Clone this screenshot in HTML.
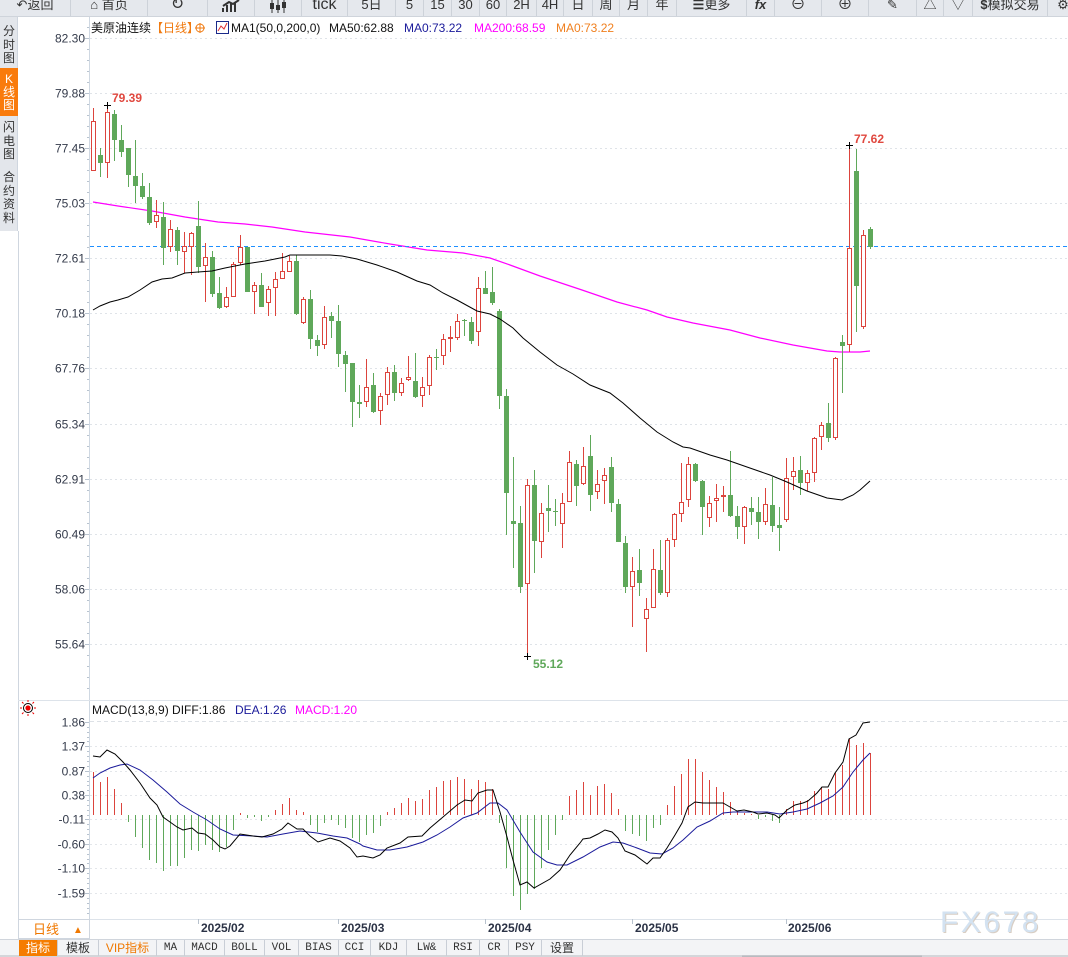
<!DOCTYPE html>
<html><head><meta charset="utf-8"><style>
*{margin:0;padding:0;box-sizing:border-box}
html,body{width:1068px;height:957px;overflow:hidden;background:#fff}
#root{position:relative;width:1068px;height:957px;overflow:hidden;background:#fff;font-family:"Liberation Sans","Noto Sans CJK SC",sans-serif}
svg{position:absolute;left:0;top:0}
.tb{position:absolute;left:0;top:0;width:1068px;height:17px;background:#e5e8ed;border-bottom:1px solid #cfd4db;overflow:hidden}
.tb span{position:absolute;top:-6px;height:23px;line-height:22px;text-align:center;font-size:13px;color:#333;border-right:1px solid #cdd2d9;white-space:nowrap}
.sb{position:absolute;left:0;top:17px;width:18px;height:214px;background:#e3e6eb;border-right:1px solid #cfd6df}
.sb div{position:absolute;left:0;width:18px;text-align:center;font-size:12px;color:#333;line-height:13.5px}
.tabs{position:absolute;left:0;top:939px;width:1068px;height:16px;background:#f3f4f6;border-top:1px solid #d0d5dc}
.tabs span{position:absolute;top:0;height:16px;line-height:16px;text-align:center;font-size:12px;color:#333;border-right:1px solid #c9ced6;white-space:nowrap}
.tabs .m{font-family:"Liberation Mono",monospace;font-size:11px}
</style></head><body><div id="root">
<svg width="1068" height="957" viewBox="0 0 1068 957" xmlns="http://www.w3.org/2000/svg" font-family="Liberation Sans, Noto Sans CJK SC, sans-serif">
<path d="M18.5 231V957" stroke="#cfd6df"/>
<path d="M89.5 17V919" stroke="#cfd8e2"/>
<g stroke="#dfe3e8" stroke-dasharray="2,3">
<path d="M90 38.5H1068M90 93.5H1068M90 148.5H1068M90 203.5H1068M90 258.5H1068M90 313.5H1068M90 368.5H1068M90 424.5H1068M90 479.5H1068M90 534.5H1068M90 589.5H1068M90 644.5H1068"/>
</g>
<g stroke="#b8c3cf">
<path d="M85 38.5H89M85 93.5H89M85 148.5H89M85 203.5H89M85 258.5H89M85 313.5H89M85 368.5H89M85 424.5H89M85 479.5H89M85 534.5H89M85 589.5H89M85 644.5H89"/>
<path d="M87 27.5h2M87 49.5h2M87 60.5h2M87 71.5h2M87 82.5h2M87 104.5h2M87 115.5h2M87 126.5h2M87 137.5h2M87 159.5h2M87 170.5h2M87 181.5h2M87 192.5h2M87 214.5h2M87 225.5h2M87 236.5h2M87 247.5h2M87 269.5h2M87 280.5h2M87 291.5h2M87 302.5h2M87 324.5h2M87 335.5h2M87 346.5h2M87 357.5h2M87 379.5h2M87 390.5h2M87 402.5h2M87 413.5h2M87 435.5h2M87 446.5h2M87 457.5h2M87 468.5h2M87 490.5h2M87 501.5h2M87 512.5h2M87 523.5h2M87 545.5h2M87 556.5h2M87 567.5h2M87 578.5h2M87 600.5h2M87 611.5h2M87 622.5h2M87 633.5h2M87 655.5h2M87 666.5h2M87 677.5h2M87 688.5h2"/>
</g>
<g font-size="12" fill="#333a4a" text-anchor="end">
<text x="85" y="42.5">82.30</text><text x="85" y="97.5">79.88</text><text x="85" y="152.5">77.45</text><text x="85" y="207.5">75.03</text><text x="85" y="262.5">72.61</text><text x="85" y="317.5">70.18</text><text x="85" y="372.5">67.76</text><text x="85" y="428.5">65.34</text><text x="85" y="483.5">62.91</text><text x="85" y="538.5">60.49</text><text x="85" y="593.5">58.06</text><text x="85" y="648.5">55.64</text>
</g>
<g font-size="12">
<text x="91" y="32" fill="#111">美原油连续</text>
<text x="151" y="32" fill="#f07a10">【日线】</text>
<g stroke="#f07a10" fill="none"><circle cx="200" cy="28" r="4"/><path d="M195 28h10M200 23v10"/></g>
<rect x="216.5" y="21.5" width="12" height="12" fill="#fff" stroke="#1a2a8a"/>
<path d="M218 31l3-5 3 3 3-6" stroke="#e03030" fill="none"/>
<text x="231" y="32" fill="#111">MA1(50,0,200,0)</text>
<text x="329" y="32" fill="#111">MA50:62.88</text>
<text x="404" y="32" fill="#1a1a9a">MA0:73.22</text>
<text x="474" y="32" fill="#ff00ff">MA200:68.59</text>
<text x="556" y="32" fill="#f08020">MA0:73.22</text>
</g>
<polyline fill="none" stroke="#ff00ff" stroke-width="1.2" points="93,202 118,206 152,211 185,217 218,222 245,224 272,227 305,232 350,237 390,244 427,250 463,253 490,258 510,265 540,276 582,290 617,302 647,310 667,317 693,323 730,330 760,338 793,345 827,351 840,352 860,352 870,351"/>
<path d="M90 246.5H1068" stroke="#1e8fff" stroke-dasharray="4,3"/>
<path fill="none" stroke="#5fa85a" d="M100.5 148V177M114.5 110V161M121.5 125V157M128.5 148V187M135.5 140V203M142.5 173V199M149.5 183V225M163.5 202V265M177.5 227V265M198.5 201V273M212.5 251V297M219.5 277V309M247.5 247V292M261.5 273V307M296.5 255V315M310.5 290V349M317.5 335V356M331.5 312V338M338.5 305V367M345.5 351V392M352.5 363V427M359.5 385V418M373.5 373V413M394.5 365V401M415.5 353V398M436.5 349V370M464.5 319V336M471.5 317V344M485.5 271V294M492.5 267V305M499.5 309V409M506.5 389V535M513.5 457V568M520.5 506V593M534.5 470V573M548.5 485V532M555.5 499V526M576.5 460V506M590.5 435V511M611.5 457V512M618.5 499V542M625.5 536V593M639.5 549V596M660.5 540V595M695.5 463V482M702.5 480V535M730.5 451V517M737.5 506V539M751.5 497V525M758.5 497V539M772.5 477V532M779.5 507V551M800.5 456V495M828.5 403V442M842.5 335V393M856.5 149V332M870.5 227V249"/>
<g fill="#5fa85a">
<rect x="98" y="155" width="5" height="8"/><rect x="112" y="114" width="5" height="26"/><rect x="119" y="140" width="5" height="12"/><rect x="126" y="148" width="5" height="27"/><rect x="133" y="176" width="5" height="10"/><rect x="140" y="186" width="5" height="11"/><rect x="147" y="197" width="5" height="26"/><rect x="161" y="217" width="5" height="31"/><rect x="175" y="230" width="5" height="21"/><rect x="196" y="226" width="5" height="41"/><rect x="210" y="257" width="5" height="37"/><rect x="217" y="293" width="5" height="15"/><rect x="245" y="247" width="5" height="45"/><rect x="259" y="285" width="5" height="22"/><rect x="294" y="261" width="5" height="53"/><rect x="308" y="299" width="5" height="40"/><rect x="315" y="340" width="5" height="6"/><rect x="329" y="316" width="5" height="5"/><rect x="336" y="321" width="5" height="33"/><rect x="343" y="355" width="5" height="9"/><rect x="350" y="363" width="5" height="39"/><rect x="357" y="402" width="5" height="2"/><rect x="371" y="385" width="5" height="27"/><rect x="392" y="372" width="5" height="21"/><rect x="413" y="381" width="5" height="16"/><rect x="434" y="357" width="5" height="1"/><rect x="462" y="320" width="5" height="1"/><rect x="469" y="322" width="5" height="19"/><rect x="483" y="288" width="5" height="6"/><rect x="490" y="292" width="5" height="11"/><rect x="497" y="311" width="5" height="85"/><rect x="504" y="396" width="5" height="97"/><rect x="511" y="521" width="5" height="3"/><rect x="518" y="523" width="5" height="64"/><rect x="532" y="485" width="5" height="56"/><rect x="546" y="508" width="5" height="3"/><rect x="553" y="511" width="5" height="1"/><rect x="574" y="464" width="5" height="22"/><rect x="588" y="456" width="5" height="39"/><rect x="609" y="467" width="5" height="36"/><rect x="616" y="504" width="5" height="38"/><rect x="623" y="543" width="5" height="44"/><rect x="637" y="570" width="5" height="13"/><rect x="658" y="570" width="5" height="23"/><rect x="693" y="464" width="5" height="17"/><rect x="700" y="481" width="5" height="26"/><rect x="728" y="495" width="5" height="21"/><rect x="735" y="516" width="5" height="11"/><rect x="749" y="508" width="5" height="4"/><rect x="756" y="512" width="5" height="10"/><rect x="770" y="505" width="5" height="21"/><rect x="777" y="525" width="5" height="3"/><rect x="798" y="470" width="5" height="13"/><rect x="826" y="423" width="5" height="15"/><rect x="840" y="342" width="5" height="4"/><rect x="854" y="171" width="5" height="115"/><rect x="868" y="229" width="5" height="18"/>
</g>
<path fill="none" stroke="#dc443d" d="M93.5 108V171M107.5 105V178M156.5 200V228M170.5 220V252M184.5 232V273M191.5 232V275M205.5 243V302M226.5 287V308M233.5 262V297M240.5 235V265M254.5 282V314M268.5 286V316M275.5 272V316M282.5 253V279M289.5 256V272M303.5 297V324M324.5 306V349M366.5 359V407M380.5 393V425M387.5 367V405M401.5 378V396M408.5 356V381M422.5 377V407M429.5 355V395M443.5 334V365M450.5 326V352M457.5 314V340M478.5 277V346M527.5 479V657M541.5 503V558M562.5 493V548M569.5 451V502M583.5 447V485M597.5 470V499M604.5 468V504M632.5 557V627M646.5 598V652M653.5 549V608M667.5 538V597M674.5 513V547M681.5 463V522M688.5 457V507M709.5 496V527M716.5 484V522M723.5 486V512M744.5 506V544M765.5 488V525M786.5 458V522M793.5 457V490M807.5 470V491M814.5 437V482M821.5 422V450M835.5 357V440M849.5 145V352M863.5 230V329"/>
<g fill="#fff" stroke="#dc443d">
<rect x="91.5" y="121.5" width="4" height="49"/><rect x="105.5" y="112.5" width="4" height="50"/><rect x="154.5" y="215.5" width="4" height="6"/><rect x="168.5" y="229.5" width="4" height="17"/><rect x="182.5" y="246.5" width="4" height="5"/><rect x="189.5" y="233.5" width="4" height="13"/><rect x="203.5" y="257.5" width="4" height="8"/><rect x="224.5" y="297.5" width="4" height="9"/><rect x="231.5" y="264.5" width="4" height="32"/><rect x="238.5" y="247.5" width="4" height="15"/><rect x="252.5" y="285.5" width="4" height="6"/><rect x="266.5" y="289.5" width="4" height="13"/><rect x="273.5" y="279.5" width="4" height="8"/><rect x="280.5" y="271.5" width="4" height="7"/><rect x="287.5" y="261.5" width="4" height="10"/><rect x="301.5" y="299.5" width="4" height="23"/><rect x="322.5" y="317.5" width="4" height="27"/><rect x="364.5" y="387.5" width="4" height="14"/><rect x="378.5" y="396.5" width="4" height="14"/><rect x="385.5" y="372.5" width="4" height="22"/><rect x="399.5" y="383.5" width="4" height="9"/><rect x="406.5" y="377.5" width="4" height="2"/><rect x="420.5" y="387.5" width="4" height="8"/><rect x="427.5" y="357.5" width="4" height="28"/><rect x="441.5" y="339.5" width="4" height="16"/><rect x="448.5" y="337.5" width="4" height="1"/><rect x="455.5" y="321.5" width="4" height="16"/><rect x="476.5" y="288.5" width="4" height="43"/><rect x="525.5" y="485.5" width="4" height="98"/><rect x="539.5" y="513.5" width="4" height="28"/><rect x="560.5" y="503.5" width="4" height="20"/><rect x="567.5" y="462.5" width="4" height="39"/><rect x="581.5" y="466.5" width="4" height="17"/><rect x="595.5" y="484.5" width="4" height="7"/><rect x="602.5" y="475.5" width="4" height="5"/><rect x="630.5" y="571.5" width="4" height="15"/><rect x="644.5" y="609.5" width="4" height="9"/><rect x="651.5" y="569.5" width="4" height="38"/><rect x="665.5" y="540.5" width="4" height="52"/><rect x="672.5" y="514.5" width="4" height="25"/><rect x="679.5" y="502.5" width="4" height="11"/><rect x="686.5" y="464.5" width="4" height="35"/><rect x="707.5" y="503.5" width="4" height="14"/><rect x="714.5" y="498.5" width="4" height="2"/><rect x="721.5" y="495.5" width="4" height="1"/><rect x="742.5" y="507.5" width="4" height="19"/><rect x="763.5" y="504.5" width="4" height="17"/><rect x="784.5" y="478.5" width="4" height="41"/><rect x="791.5" y="471.5" width="4" height="5"/><rect x="805.5" y="473.5" width="4" height="9"/><rect x="812.5" y="438.5" width="4" height="34"/><rect x="819.5" y="425.5" width="4" height="11"/><rect x="833.5" y="358.5" width="4" height="79"/><rect x="847.5" y="248.5" width="4" height="96"/><rect x="861.5" y="235.5" width="4" height="91"/>
</g>
<polyline fill="none" stroke="#000" stroke-width="1" points="93,310 100,306 110,302 118,300 128,297 140,290 152,282 162,279 172,278 185,273 198,272 212,271 225,268 245,264 265,261 285,257 290,255 313,255 330,255 342,256 357,259 377,265 397,272 417,281 430,285 443,293 457,300 477,311 490,314 500,319 513,328 523,338 540,352 557,365 573,374 590,385 610,393 623,403 640,418 657,432 673,442 683,447 690,448 710,455 727,460 747,467 770,475 787,482 807,491 827,498 842,500 853,495 860,490 870,481"/>
<path d="M104 105.5h7M107.5 102v7M846 145.5h7M849.5 142v7M524 656.5h7M527.5 653v7" stroke="#000"/>
<text x="112" y="102" font-size="12" font-weight="bold" fill="#e0483f">79.39</text>
<text x="854" y="143" font-size="12" font-weight="bold" fill="#e0483f">77.62</text>
<text x="533" y="668" font-size="12" font-weight="bold" fill="#5fa85a">55.12</text>
<path d="M18 700.5H1068" stroke="#dde3ea"/>
<g transform="translate(28,708)">
<circle r="4.5" fill="none" stroke="#000"/><circle r="2.6" fill="#e00"/>
<path d="M0-8v2M0 6v2M-8 0h2M6 0h2M-6-6l1.5 1.5M4.5 4.5L6 6M6-6L4.5-4.5M-4.5 4.5L-6 6" stroke="#e00"/>
</g>
<g font-size="12">
<text x="92" y="714" fill="#111">MACD(13,8,9) DIFF:1.86</text>
<text x="235" y="714" fill="#1a1a9a">DEA:1.26</text>
<text x="295" y="714" fill="#ff00ff">MACD:1.20</text>
</g>
<path d="M90 721.5H1068" stroke="#dde1e6" stroke-dasharray="4,3"/>
<g stroke="#e3e6ea" stroke-dasharray="2,3">
<path d="M90 746.5H1068M90 771.5H1068M90 795.5H1068M90 819.5H1068M90 844.5H1068M90 868.5H1068M90 893.5H1068"/>
</g>
<g stroke="#b8c3cf">
<path d="M85 722.5H89M85 746.5H89M85 771.5H89M85 795.5H89M85 819.5H89M85 844.5H89M85 868.5H89M85 893.5H89"/>
<path d="M87 727.5h2M87 732.5h2M87 737.5h2M87 741.5h2M87 751.5h2M87 756.5h2M87 761.5h2M87 766.5h2M87 776.5h2M87 781.5h2M87 785.5h2M87 790.5h2M87 800.5h2M87 805.5h2M87 810.5h2M87 815.5h2M87 824.5h2M87 829.5h2M87 834.5h2M87 839.5h2M87 849.5h2M87 854.5h2M87 859.5h2M87 863.5h2M87 873.5h2M87 878.5h2M87 883.5h2M87 888.5h2M87 898.5h2M87 903.5h2M87 908.5h2M87 913.5h2"/>
</g>
<g font-size="12" fill="#333a4a" text-anchor="end">
<text x="85" y="726.5">1.86</text><text x="85" y="750.5">1.37</text><text x="85" y="775.5">0.87</text><text x="85" y="799.5">0.38</text><text x="85" y="823.5">-0.11</text><text x="85" y="848.5">-0.60</text><text x="85" y="872.5">-1.10</text><text x="85" y="897.5">-1.59</text>
</g>
<path stroke="#dc443d" d="M93.5 815V772M100.5 815V782M107.5 815V777M114.5 815V789M121.5 815V803M240.5 815V813M275.5 815V810M282.5 815V804M289.5 815V798M296.5 815V810M303.5 815V812M387.5 815V812M394.5 815V808M401.5 815V803M408.5 815V798M415.5 815V801M422.5 815V799M429.5 815V790M436.5 815V787M443.5 815V781M450.5 815V780M457.5 815V777M464.5 815V779M471.5 815V789M478.5 815V780M485.5 815V782M492.5 815V789M569.5 815V796M576.5 815V790M583.5 815V782M590.5 815V795M597.5 815V786M604.5 815V784M611.5 815V793M618.5 815V809M667.5 815V805M674.5 815V786M681.5 815V774M688.5 815V759M695.5 815V759M702.5 815V772M709.5 815V780M716.5 815V787M723.5 815V792M730.5 815V802M737.5 815V811M744.5 815V813M751.5 815V814M786.5 815V809M793.5 815V801M800.5 815V801M807.5 815V800M814.5 815V791M821.5 815V787M828.5 815V789M835.5 815V773M842.5 815V765M849.5 815V739M856.5 815V745M863.5 815V743M870.5 815V753"/>
<path stroke="#5fa85a" d="M128.5 815V822M135.5 815V837M142.5 815V848M149.5 815V860M156.5 815V863M163.5 815V871M170.5 815V866M177.5 815V866M184.5 815V858M191.5 815V850M198.5 815V851M205.5 815V845M212.5 815V850M219.5 815V852M226.5 815V847M233.5 815V830M247.5 815V818M254.5 815V817M261.5 815V821M268.5 815V817M310.5 815V825M317.5 815V832M324.5 815V823M331.5 815V820M338.5 815V825M345.5 815V828M352.5 815V838M359.5 815V842M366.5 815V835M373.5 815V833M380.5 815V826M499.5 815V823M506.5 815V868M513.5 815V896M520.5 815V910M527.5 815V894M534.5 815V889M541.5 815V868M548.5 815V850M555.5 815V835M562.5 815V820M625.5 815V831M632.5 815V834M639.5 815V836M646.5 815V841M653.5 815V828M660.5 815V825M758.5 815V819M765.5 815V817M772.5 815V821M779.5 815V823"/>
<polyline fill="none" stroke="#1a1a9a" points="93,778 100,773 110,768 120,765 127,764 140,770 153,780 167,792 180,804 193,812 207,820 220,829 233,835 253,836 267,837 283,834 300,831 317,833 333,836 347,838 360,844 363,846 377,850 390,850 407,847 423,842 437,835 450,827 463,818 477,813 490,803 498,803 507,810 520,832 533,852 547,862 557,865 567,865 583,857 600,847 613,842 623,843 637,848 650,853 662,854 673,848 683,840 697,827 710,821 723,813 733,812 767,812 780,814 793,812 807,809 820,803 833,796 843,787 853,772 863,760 870,753"/>
<polyline fill="none" stroke="#000" points="93,756 100,757 107,750 115,754 123,762 130,770 140,783 150,798 157,805 163,817 170,822 177,827 183,830 192,828 198,833 205,834 213,840 220,847 225,849 230,846 240,834 253,836 262,837 273,834 282,829 288,823 297,829 303,829 310,836 318,842 330,838 340,841 350,848 357,857 363,856 373,858 380,855 387,848 400,843 408,837 422,836 430,828 443,817 457,805 465,800 472,801 478,793 487,790 493,790 500,812 507,837 513,860 520,885 527,882 534,888 550,879 560,870 570,855 580,843 583,839 590,838 598,834 605,830 612,832 618,838 625,851 635,855 647,864 653,858 660,858 667,848 675,835 682,823 688,807 695,802 703,803 713,803 723,803 730,807 737,811 744,810 753,812 758,814 767,813 775,815 779,818 787,810 795,805 803,803 808,801 817,793 822,787 828,787 835,773 843,762 849,739 856,735 863,723 870,722"/>
<path d="M18 919.5H1068" stroke="#dde3ea"/>
<rect x="18.5" y="919.5" width="71" height="19" fill="#fff" stroke="#cfd6df"/>
<text x="33" y="934" font-size="13" fill="#f07800">日线</text>
<text x="73" y="933" font-size="10" fill="#f07800">▲</text>
<path d="M198.5 919V924M338.5 919V924M485.5 919V924M632.5 919V924M786.5 919V924" stroke="#b8c2cd"/>
<g font-size="12" font-weight="bold" fill="#2b3245">
<text x="201" y="932">2025/02</text><text x="341" y="932">2025/03</text><text x="488" y="932">2025/04</text><text x="635" y="932">2025/05</text><text x="788" y="932">2025/06</text>
</g>
<g font-size="30" letter-spacing="2.5">
<text x="941" y="933" fill="#d8cec4">FX678</text>
<text x="940" y="932" fill="#d3e2f1">FX678</text>
</g>
<rect x="0" y="955" width="1068" height="2" fill="#d4d6da"/>
<rect x="742" y="955.5" width="180" height="1.5" fill="#b8bbc0"/>
</svg>
<div class="tb">
<span style="left:0;width:71px">↶返回</span>
<span style="left:71px;width:77px">⌂ 首页</span>
<span style="left:148px;width:60px;font-size:16px">↻</span>
<span style="left:208px;width:47px"><svg width="20" height="14" style="position:relative;top:4px"><path d="M2 13V9M6 13V6M10 13V4M14 13V3M2 7L8 3 12 5 18 1" stroke="#333" stroke-width="2" fill="none"/></svg></span>
<span style="left:255px;width:47px"><svg width="18" height="14" style="position:relative;top:4px"><path d="M3 0V14M9 0V14M15 0V14" stroke="#333"/><rect x="1" y="4" width="4" height="6" fill="#333"/><rect x="7" y="6" width="4" height="5" fill="#333"/><rect x="13" y="3" width="4" height="6" fill="#333"/></svg></span>
<span style="left:302px;width:46px;font-size:16px">tick</span>
<span style="left:348px;width:48px">5日</span>
<span style="left:396px;width:28px">5</span>
<span style="left:424px;width:28px">15</span>
<span style="left:452px;width:28px">30</span>
<span style="left:480px;width:27px">60</span>
<span style="left:507px;width:30px">2H</span>
<span style="left:537px;width:27px">4H</span>
<span style="left:564px;width:29px">日</span>
<span style="left:593px;width:27px">周</span>
<span style="left:620px;width:28px">月</span>
<span style="left:648px;width:29px">年</span>
<span style="left:677px;width:70px"><b>☰</b>更多</span>
<span style="left:747px;width:28px;font-weight:bold;font-style:italic">fx</span>
<span style="left:775px;width:47px;font-size:15px">⊖</span>
<span style="left:822px;width:47px;font-size:15px">⊕</span>
<span style="left:869px;width:48px">✎</span>
<span style="left:917px;width:27px">△</span>
<span style="left:944px;width:29px">▽</span>
<span style="left:973px;width:75px"><b>$</b>模拟交易</span>
<span style="left:1048px;width:30px;border:none">⚙</span>
</div>
<div class="sb">
<div style="top:8px">分<br>时<br>图</div>
<div style="top:51px;height:48px;background:#f97b0c;color:#fff;line-height:13px;padding-top:5px">K<br>线<br>图</div>
<div style="top:104px">闪<br>电<br>图</div>
<div style="top:154px">合<br>约<br>资<br>料</div>
</div>
<div class="tabs">
<span style="left:19px;width:39px;background:#f57c00;color:#fff">指标</span>
<span style="left:58px;width:41px">模板</span>
<span style="left:99px;width:58px;color:#f07800">VIP指标</span>
<span class="m" style="left:157px;width:28px">MA</span>
<span class="m" style="left:185px;width:40px">MACD</span>
<span class="m" style="left:225px;width:40px">BOLL</span>
<span class="m" style="left:265px;width:34px">VOL</span>
<span class="m" style="left:299px;width:40px">BIAS</span>
<span class="m" style="left:339px;width:32px">CCI</span>
<span class="m" style="left:371px;width:36px">KDJ</span>
<span class="m" style="left:407px;width:40px">LW&amp;</span>
<span class="m" style="left:447px;width:33px">RSI</span>
<span class="m" style="left:480px;width:29px">CR</span>
<span class="m" style="left:509px;width:33px">PSY</span>
<span style="left:542px;width:41px">设置</span>
</div>
</div></body></html>
